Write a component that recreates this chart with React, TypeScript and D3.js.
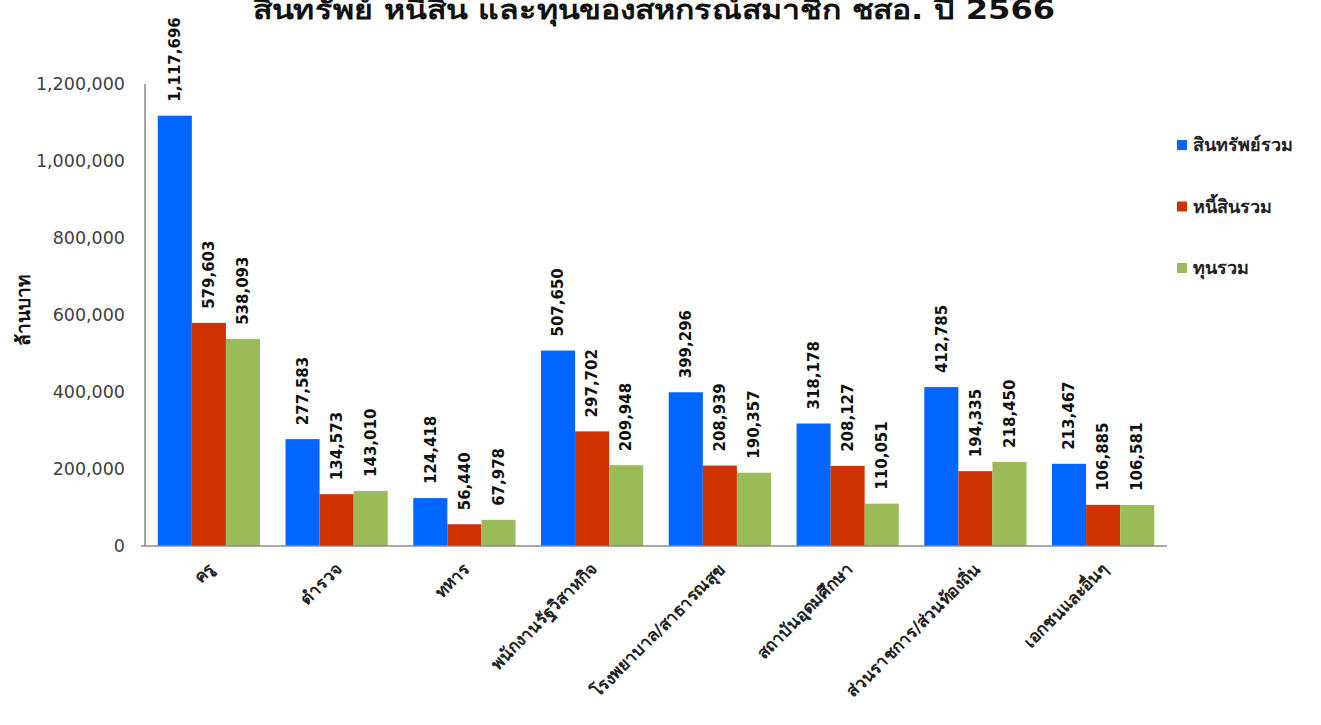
import * as d3 from "d3";
import React from "react";

// หมวดสหกรณ์
const categories = [
  "ครู",
  "ตำรวจ",
  "ทหาร",
  "พนักงานรัฐวิสาหกิจ",
  "โรงพยาบาล/สาธารณสุข",
  "สถาบันอุดมศึกษา",
  "ส่วนราชการ/ส่วนท้องถิ่น",
  "เอกชนและอื่นๆ",
];
const seriesNames = ["สินทรัพย์รวม", "หนี้สินรวม", "ทุนรวม"];
const assets = [1117696, 277583, 124418, 507650, 399296, 318178, 412785, 213467];
const liabilities = [579603, 134573, 56440, 297702, 208939, 208127, 194335, 106885];
const equity = [538093, 143010, 67978, 209948, 190357, 110051, 218450, 106581];
const yTicks = [0, 200000, 400000, 600000, 800000, 1000000, 1200000];
const colors = ["#0066FF", "#CC3300", "#9BBB59"];

const W = 1321;
const H = 725;
const FONT = "Tahoma, 'DejaVu Sans', 'Noto Sans', sans-serif";

export default function App() {
  const series = [assets, liabilities, equity];
  const fmt = d3.format(",");

  const x0 = d3.scaleBand<string>()
    .domain(categories)
    .range([145, 1167])
    .paddingInner(0.2)
    .paddingOuter(0.1);
  const x1 = d3.scaleBand<number>()
    .domain([0, 1, 2])
    .range([0, x0.bandwidth()]);
  const y = d3.scaleLinear().domain([0, 1200000]).range([546, 84]);

  return (
    <svg width={W} height={H} style={{ position: "absolute", left: 0, top: 0, background: "#fff" }} fontFamily={FONT}>
      {/* ชื่อกราฟ */}
      <text
        x={654}
        y={19}
        textAnchor="middle"
        fontSize={27}
        fontWeight="bold"
        fill="#111"
        textLength={802}
        lengthAdjust="spacingAndGlyphs"
      >
        สินทรัพย์ หนี้สิน และทุนของสหกรณ์สมาชิก ชสอ. ปี 2566
      </text>

      {/* แกน y */}
      {yTicks.map((t) => (
        <text key={t} x={125} y={y(t)} dy="0.35em" textAnchor="end" fontSize={17.5} fill="#404040">
          {fmt(t)}
        </text>
      ))}
      <text transform="translate(30,310) rotate(-90)" textAnchor="middle" fontSize={19} fontWeight="bold" fill="#111">
        ล้านบาท
      </text>

      {/* แท่ง */}
      {categories.map((c, i) => (
        <g key={c} transform={`translate(${x0(c)},0)`}>
          {series.map((s, k) => (
            <rect
              key={k}
              x={x1(k)}
              y={y(s[i])}
              width={x1.bandwidth()}
              height={y(0) - y(s[i])}
              fill={colors[k]}
            />
          ))}
          {series.map((s, k) => (
            <text
              key={"l" + k}
              transform={`translate(${(x1(k) ?? 0) + x1.bandwidth() / 2},${y(s[i]) - 14}) rotate(-90)`}
              dy="0.35em"
              fontSize={15}
              fontWeight="bold"
              fill="#111"
            >
              {fmt(s[i])}
            </text>
          ))}
        </g>
      ))}

      {/* เส้นแกน */}
      <line x1={145} x2={145} y1={84} y2={546} stroke="#8a8a8a" strokeWidth={1.5} />
      <line x1={141} x2={1167} y1={546} y2={546} stroke="#8a8a8a" strokeWidth={1.5} />

      {/* ป้ายแกน x */}
      {categories.map((c) => (
        <text
          key={c}
          transform={`translate(${(x0(c) ?? 0) + x0.bandwidth() / 2 + 2},566) rotate(-45)`}
          textAnchor="end"
          dy="0.35em"
          fontSize={17}
          fontWeight="bold"
          fill="#222"
        >
          {c}
        </text>
      ))}

      {/* คำอธิบาย */}
      {seriesNames.map((n, k) => (
        <g key={n} transform={`translate(1177,${145 + k * 61.5})`}>
          <rect x={0} y={-5} width={10} height={10} fill={colors[k]} />
          <text x={16} y={0} dy="0.35em" fontSize={18} fontWeight="bold" fill="#222">
            {n}
          </text>
        </g>
      ))}
    </svg>
  );
}
